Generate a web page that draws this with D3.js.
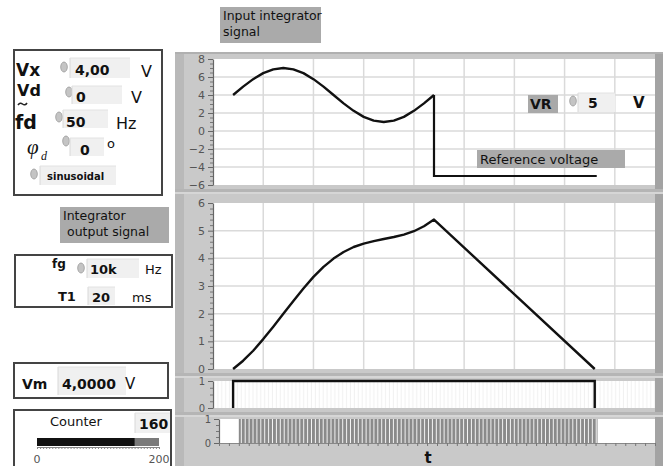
<!DOCTYPE html>
<html>
<head>
<meta charset="utf-8">
<script src="https://cdn.jsdelivr.net/npm/d3@7"></script>
<style>
  html, body { margin: 0; padding: 0; background: #fff; }
  svg { display: block; font-family: "DejaVu Sans", Verdana, sans-serif; }
</style>
</head>
<body>
<svg id="panel" width="669" height="466"></svg>
<script>
// ---- signal data (time in ms) ----
const inputT = [2,3,4,5,6,7,8,9,10,11,12,13,14,15,16,17,18,19,20,21,22];
const inputV = [4,4.93,5.76,6.43,6.85,7,6.85,6.43,5.76,4.93,4,3.07,2.24,1.57,1.15,1,1.15,1.57,2.24,3.07,4];
const refT = [22, 22, 38.2];
const refV = [4, -5, -5];
const outT = [2,3,4,5,6,7,8,9,10,11,12,13,14,15,16,17,18,19,20,21,22,38];
const outV = [0,0.30,0.66,1.08,1.53,2.00,2.46,2.91,3.33,3.69,3.99,4.23,4.41,4.53,4.62,4.70,4.77,4.86,4.98,5.16,5.40,0];
const compT = [2, 2, 38, 38];
const compV = [0, 1, 1, 0];
const clockGate = [2, 38.2];
const timeDomain = [0, 44];
const gridTimes = [5,10,15,20,25,30,35,40];

// ---- axis ticks ----
const inTicks = [-6,-4,-2,0,2,4,6,8];
const outTicks = [0,1,2,3,4,5,6];
const binTicks = [0,1];

// ---- front panel values ----
const countValue = 160, countMax = 200;

const svg = d3.select("#panel");

// ---------- right column: graph frames ----------
svg.append("rect").attr("x",175).attr("y",52).attr("width",488).attr("height",414).attr("fill","#c9c9c9");
svg.append("rect").attr("x",175).attr("y",52).attr("width",9).attr("height",414).attr("fill","#b9b9b9");
svg.append("rect").attr("x",655).attr("y",52).attr("width",8).attr("height",414).attr("fill","#a3a3a3");
svg.append("rect").attr("x",175).attr("y",52).attr("width",488).attr("height",2).attr("fill","#b0b0b0");
[189, 373, 412].forEach(yy => {
  svg.append("rect").attr("x",175).attr("y",yy).attr("width",488).attr("height",3).attr("fill","#b5b5b5");
  svg.append("rect").attr("x",175).attr("y",yy+3).attr("width",488).attr("height",2).attr("fill","#d6d6d6");
});

const x1 = d3.scaleLinear(timeDomain, [213, 655]);
const x4 = d3.scaleLinear(timeDomain, [219, 655]);
const y1 = d3.scaleLinear([-6, 8], [185, 59]);
const y2 = d3.scaleLinear([0, 6], [369, 203]);
const y3 = d3.scaleLinear([0, 1], [408, 381]);
const y4 = d3.scaleLinear([0, 1], [443, 419]);

// stripe patterns
const defs = svg.append("defs");
const pClock = defs.append("pattern").attr("id","clk").attr("patternUnits","userSpaceOnUse")
  .attr("width",3.9).attr("height",10);
pClock.append("rect").attr("width",3.9).attr("height",10).attr("fill","#8a8a8a");
pClock.append("rect").attr("x",2.9).attr("width",1).attr("height",10).attr("fill","#f4f4f4");
const pFaint = defs.append("pattern").attr("id","faint").attr("patternUnits","userSpaceOnUse")
  .attr("width",3.9).attr("height",10);
pFaint.append("rect").attr("width",3.9).attr("height",10).attr("fill","#ffffff");
pFaint.append("rect").attr("x",2.9).attr("width",1).attr("height",10).attr("fill","#f1f1f1");

function plotArea(x, y, fill) {
  const [l, r] = x.range(), [b, t] = y.range();
  svg.append("rect").attr("x",l).attr("y",t).attr("width",r-l).attr("height",b-t).attr("fill",fill||"#fff");
}
function grid(x, y, yTicks) {
  const [l, r] = x.range(), [b, t] = y.range();
  const g = svg.append("g").attr("stroke","#dadada").attr("stroke-width",1.5);
  gridTimes.forEach(v => g.append("line").attr("x1",x(v)).attr("x2",x(v)).attr("y1",t).attr("y2",b));
  yTicks.slice(1,-1).forEach(v => g.append("line").attr("x1",l).attr("x2",r).attr("y1",y(v)).attr("y2",y(v)));
}
function yAxis(x, y, ticks, minorStep, fontSize) {
  const l = x.range()[0];
  const [d0, d1] = y.domain();
  const minors = d3.range(d0, d1 + 1e-9, minorStep).filter(v => !ticks.some(t => Math.abs(t - v) < 1e-6));
  const gm = svg.append("g").attr("transform",`translate(${l},0)`)
    .call(d3.axisLeft(y).tickValues(minors).tickSize(3).tickSizeOuter(0).tickFormat(""));
  gm.select(".domain").remove();
  gm.selectAll("line").attr("stroke","#777");
  const g = svg.append("g").attr("transform",`translate(${l},0)`)
    .call(d3.axisLeft(y).tickValues(ticks).tickSize(5).tickSizeOuter(0).tickPadding(3).tickFormat(d3.format("d")));
  g.select(".domain").attr("stroke","#666").attr("stroke-width",1.2);
  g.selectAll("line").attr("stroke","#666");
  g.selectAll("text").attr("fill","#555").style("font-size",(fontSize||11)+"px").style("font-family","'DejaVu Sans', sans-serif");
}
const line = (x, y) => d3.line().x(d => x(d[0])).y(d => y(d[1]));
const pairs = (a, b) => a.map((v, i) => [v, b[i]]);

// ---- graph 1: integrator input ----
plotArea(x1, y1);
grid(x1, y1, inTicks);
yAxis(x1, y1, inTicks, 0.5);
svg.append("path").attr("d", line(x1, y1)(pairs(inputT, inputV)))
  .attr("fill","none").attr("stroke","#111").attr("stroke-width",2.4).attr("stroke-linejoin","round");
svg.append("path").attr("d", line(x1, y1)(pairs(refT, refV)))
  .attr("fill","none").attr("stroke","#111").attr("stroke-width",2.2);

// ---- graph 2: integrator output ----
plotArea(x1, y2);
grid(x1, y2, outTicks);
yAxis(x1, y2, outTicks, 0.2);
svg.append("path").attr("d", line(x1, y2)(pairs(outT, outV)))
  .attr("fill","none").attr("stroke","#111").attr("stroke-width",2.4).attr("stroke-linejoin","round");

// ---- graph 3: comparator ----
plotArea(x1, y3, "url(#faint)");
yAxis(x1, y3, binTicks, 0.25, 10);
svg.append("path").attr("d", line(x1, y3)(pairs(compT, compV)))
  .attr("fill","none").attr("stroke","#111").attr("stroke-width",2.4);

// ---- graph 4: clock pulses ----
plotArea(x4, y4);
svg.append("rect").attr("x", x4(clockGate[0])).attr("y", y4(1))
  .attr("width", x4(clockGate[1]) - x4(clockGate[0])).attr("height", y4(0) - y4(1))
  .attr("fill","url(#clk)");
yAxis(x4, y4, binTicks, 0.25, 10);
const gx = svg.append("g").attr("transform",`translate(0,${y4(0)})`)
  .call(d3.axisBottom(x4).tickValues(d3.range(0, 45, 1)).tickSize(3).tickFormat(""));
gx.select(".domain").attr("stroke","#888");
gx.selectAll("line").attr("stroke","#777");
svg.append("text").attr("x",428).attr("y",463).attr("font-weight","bold").attr("font-size",15)
  .attr("text-anchor","middle").attr("fill","#111").text("t");

// ---------- labels ----------
function grayLabel(x, y, w, h, lines, dx, size) {
  svg.append("rect").attr("x",x).attr("y",y).attr("width",w).attr("height",h).attr("fill","#aaaaaa");
  lines.forEach((s, i) => svg.append("text").attr("x",x + dx[i]).attr("y",y + 13 + i*16)
    .attr("font-size",size).attr("fill","#111").text(s));
}
grayLabel(220, 7, 101, 36, ["Input integrator", "signal"], [3, 3], 12.5);
grayLabel(60, 207, 109, 36, ["Integrator", "output signal"], [3, 7], 12.5);
svg.append("rect").attr("x",477).attr("y",150).attr("width",148).attr("height",18).attr("fill","#aaaaaa");
svg.append("text").attr("x",480).attr("y",164).attr("font-size",13).attr("fill","#111").text("Reference voltage");

function spinner(cx, cy) {
  svg.append("ellipse").attr("cx",cx).attr("cy",cy).attr("rx",3.3).attr("ry",5)
    .attr("fill","#c4c4c4").attr("stroke","#999").attr("stroke-width",0.8);
}
function field(x, y, w, h) {
  svg.append("rect").attr("x",x).attr("y",y).attr("width",w).attr("height",h).attr("fill","#f0f0f0");
  svg.append("line").attr("x1",x).attr("x2",x).attr("y1",y).attr("y2",y+h).attr("stroke","#d8d8d8");
  svg.append("line").attr("x1",x).attr("x2",x+w).attr("y1",y).attr("y2",y).attr("stroke","#e2e2e2");
}
function txt(x, y, s, size, bold, extra) {
  const t = svg.append("text").attr("x",x).attr("y",y).attr("font-size",size).attr("fill","#111")
    .attr("font-weight", bold ? "bold" : "normal").text(s);
  if (extra) extra(t);
  return t;
}

// VR control
svg.append("rect").attr("x",528).attr("y",95).attr("width",30).attr("height",18).attr("fill","#a9a9a9");
txt(530, 109, "VR", 14, true);
spinner(573, 101);
field(578, 93, 37, 19);
txt(588, 108, "5", 14, true);
txt(633, 108, "V", 15, true);

// ---------- left column ----------
function box(x, y, w, h) {
  svg.append("rect").attr("x",x).attr("y",y).attr("width",w).attr("height",h)
    .attr("fill","#fff").attr("stroke","#444").attr("stroke-width",2);
}
box(14, 50, 148, 145);
txt(16, 76, "Vx", 17, true);
spinner(64, 67); field(70, 58, 60, 20);
txt(75, 75, "4,00", 14, true);
txt(141, 77, "V", 16, false);

txt(17, 96, "Vd", 16, true);
// small tilde mark under the Vd label
svg.append("path").attr("d","M18,105 q2,-3 4.5,-1 t4.5,-1").attr("fill","none").attr("stroke","#222").attr("stroke-width",1.6);
spinner(69, 92); field(72, 86, 50, 18);
txt(76, 102, "0", 14, true);
txt(131, 103, "V", 16, false);

txt(15, 129, "fd", 19, true);
spinner(59, 117); field(63, 110, 45, 18);
txt(66, 127, "50", 14, true);
txt(116, 129, "Hz", 16, false);

txt(27, 154, "φ", 21, false, t => t.attr("font-style","italic").attr("font-family","'Liberation Serif', 'DejaVu Serif', serif"));
txt(41, 160, "d", 12, false, t => t.attr("font-style","italic").attr("font-family","'Liberation Serif', 'DejaVu Serif', serif"));
spinner(66, 141); field(70, 138, 34, 18);
txt(80, 155, "0", 14, true);
txt(107, 148, "o", 13, false);

spinner(34, 174); field(40, 166, 76, 19);
txt(47, 180, "sinusoidal", 10, true);

box(15, 255, 157, 52);
txt(52, 268, "fg", 12, true);
spinner(81, 268); field(87, 259, 52, 19);
txt(90, 274, "10k", 13, true);
txt(145, 274, "Hz", 13, false);
txt(58, 301, "T1", 13, true);
field(88, 287, 27, 18);
txt(92, 302, "20", 13, true);
txt(132, 302, "ms", 13, false);

box(14, 363, 154, 35);
txt(22, 389, "Vm", 14, true);
field(58, 367, 68, 28);
txt(62, 389, "4,0000", 14, true);
txt(125, 389, "V", 15, false);

box(14, 410, 157, 62);
txt(50, 426, "Counter", 13, false);
field(135, 413, 35, 20);
txt(139, 429, String(countValue), 14, true);
const xc = d3.scaleLinear([0, countMax], [37, 159]);
svg.append("rect").attr("x",xc(0)).attr("y",438).attr("width",xc(countMax)-xc(0)).attr("height",8).attr("fill","#7a7a7a");
svg.append("rect").attr("x",xc(0)).attr("y",438).attr("width",xc(countValue)-xc(0)).attr("height",8).attr("fill","#111");
const gc = svg.append("g").attr("transform","translate(0,447)")
  .call(d3.axisBottom(xc).tickValues(d3.range(0, countMax + 1, 5)).tickSize(2).tickFormat(""));
gc.select(".domain").attr("stroke","#888");
gc.selectAll("line").attr("stroke","#888");
svg.append("text").attr("x",xc(0)).attr("y",463).attr("text-anchor","middle").attr("font-size",11).attr("fill","#555").text("0");
svg.append("text").attr("x",xc(countMax)).attr("y",463).attr("text-anchor","middle").attr("font-size",11).attr("fill","#555").text("200");
</script>
</body>
</html>
